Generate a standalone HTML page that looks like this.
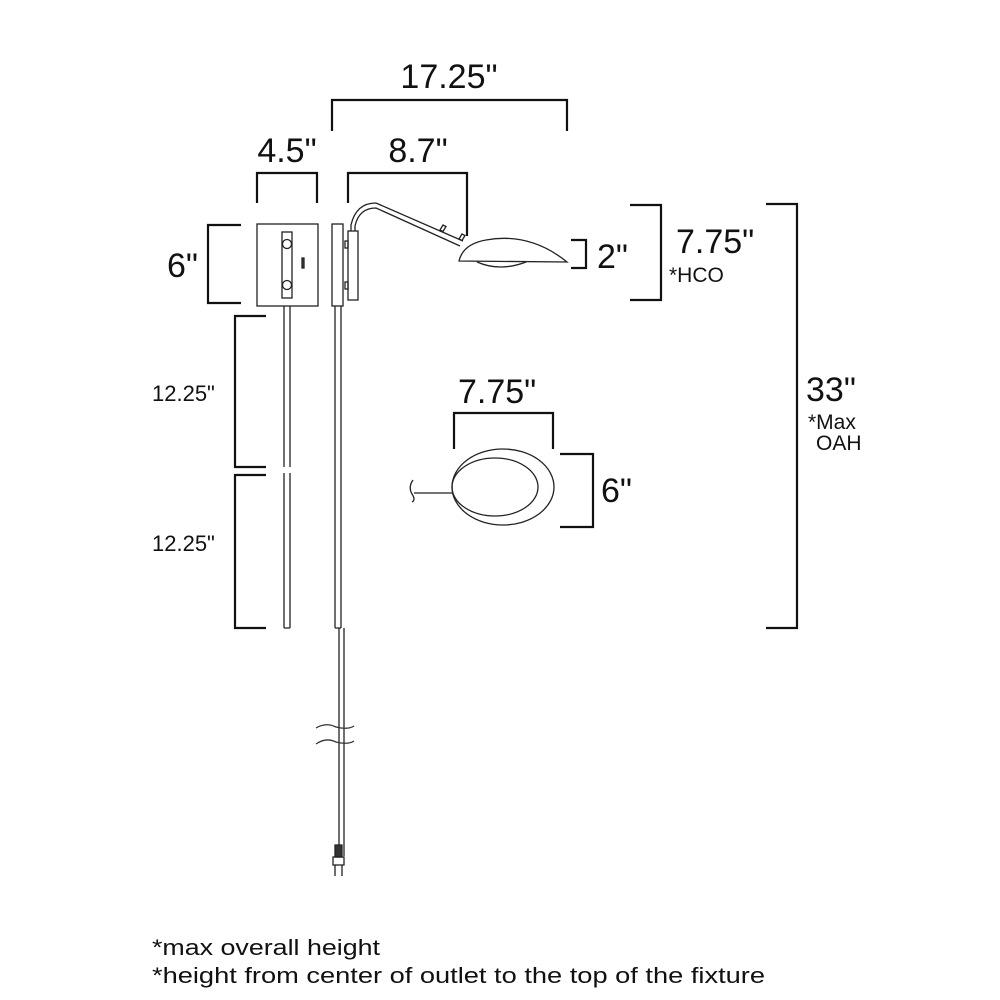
<!DOCTYPE html>
<html><head><meta charset="utf-8"><style>
html,body{margin:0;padding:0;background:#fff;width:1000px;height:1000px;overflow:hidden}
svg{display:block}
text{font-family:"Liberation Sans",sans-serif;fill:#111}
</style></head><body>
<svg width="1000" height="1000" viewBox="0 0 1000 1000">
<g fill="none" stroke="#111" stroke-width="2.2">
<path d="M332,131 V100 H567 V131"/>
<path d="M257,203 V173 H317 V203"/>
<path d="M348,203 V173 H467 V236"/>
<path d="M241,225 H208 V303 H241"/>
<path d="M266,316 H235 V467 H266"/>
<path d="M266,475 H235 V628 H266"/>
<path d="M571,240 H586 V268 H571"/>
<path d="M630,205 H661 V300 H630"/>
<path d="M766,204 H797 V628 H766"/>
<path d="M454,449 V413 H553 V449"/>
<path d="M560,454 H593 V527 H560"/>
</g>
<g fill="none" stroke="#222" stroke-width="1.3">
<rect x="257" y="224" width="61" height="82"/>
<rect x="282" y="232" width="10" height="66"/>
<circle cx="287" cy="244" r="4.5"/>
<circle cx="287" cy="285" r="4.5"/>
<rect x="302" y="258" width="2" height="10" fill="#444"/>
<rect x="332" y="224" width="11" height="82"/>
<rect x="348" y="231" width="10" height="69"/>
<rect x="345" y="241" width="3" height="7"/>
<rect x="345" y="282" width="3" height="7"/>
<path d="M351,231 V225 Q356,203 376,203 L463,241"/>
<path d="M355,231 V226 Q359,208 376,208 L460,246"/>
<path d="M440,230 l3,-5 l3,1.5 l-3,5 z"/>
<path d="M459,239 l3,-5 l3,1.5 l-3,5 z"/>
<path d="M459,261 Q463,244 486,240 Q530,232 567,262 Z"/>
<path d="M477,262 Q500,272 526,262"/>
<path d="M284,306 V467 M290,306 V467 M284,473 V628 M290,473 V628 M284,628 H290"/>
<path d="M335,306 V628 M341,306 V628 M335,628 H341"/>
<path d="M339,628 V856 M344,628 V856"/>
<path d="M316,728 Q326,722 336,727 Q348,730 354,726" stroke="#333"/>
<path d="M316,744 Q326,737 336,742 Q348,745 354,741" stroke="#333"/>
<rect x="335" y="845" width="7" height="12" fill="#333"/>
<rect x="333" y="857" width="11" height="8"/>
<path d="M335,865 V876 M342,865 V876"/>
<ellipse cx="503" cy="487" rx="51" ry="38"/>
<ellipse cx="495" cy="487" rx="43" ry="29"/>
<path d="M453,493 H414"/>
<path d="M413,480 Q408,487 412,494 Q416,500 412,502"/>
</g>
<g font-size="34">
<text x="449" y="88" text-anchor="middle">17.25"</text>
<text x="287" y="162" text-anchor="middle">4.5"</text>
<text x="418" y="162" text-anchor="middle">8.7"</text>
<text x="167" y="277">6"</text>
<text x="597" y="268">2"</text>
<text x="676" y="253">7.75"</text>
<text x="806" y="401">33"</text>
<text x="458" y="403">7.75"</text>
<text x="601" y="502">6"</text>
</g>
<g font-size="22">
<text x="152" y="401">12.25"</text>
<text x="152" y="551">12.25"</text>
</g>
<g font-size="21">
<text x="669" y="282">*HCO</text>
<text x="808" y="429">*Max</text>
<text x="816" y="450">OAH</text>
</g>
<g font-size="22">
<text x="152" y="955" textLength="228" lengthAdjust="spacingAndGlyphs">*max overall height</text>
<text x="152" y="983" textLength="613" lengthAdjust="spacingAndGlyphs">*height from center of outlet to the top of the fixture</text>
</g>
</svg>
</body></html>
